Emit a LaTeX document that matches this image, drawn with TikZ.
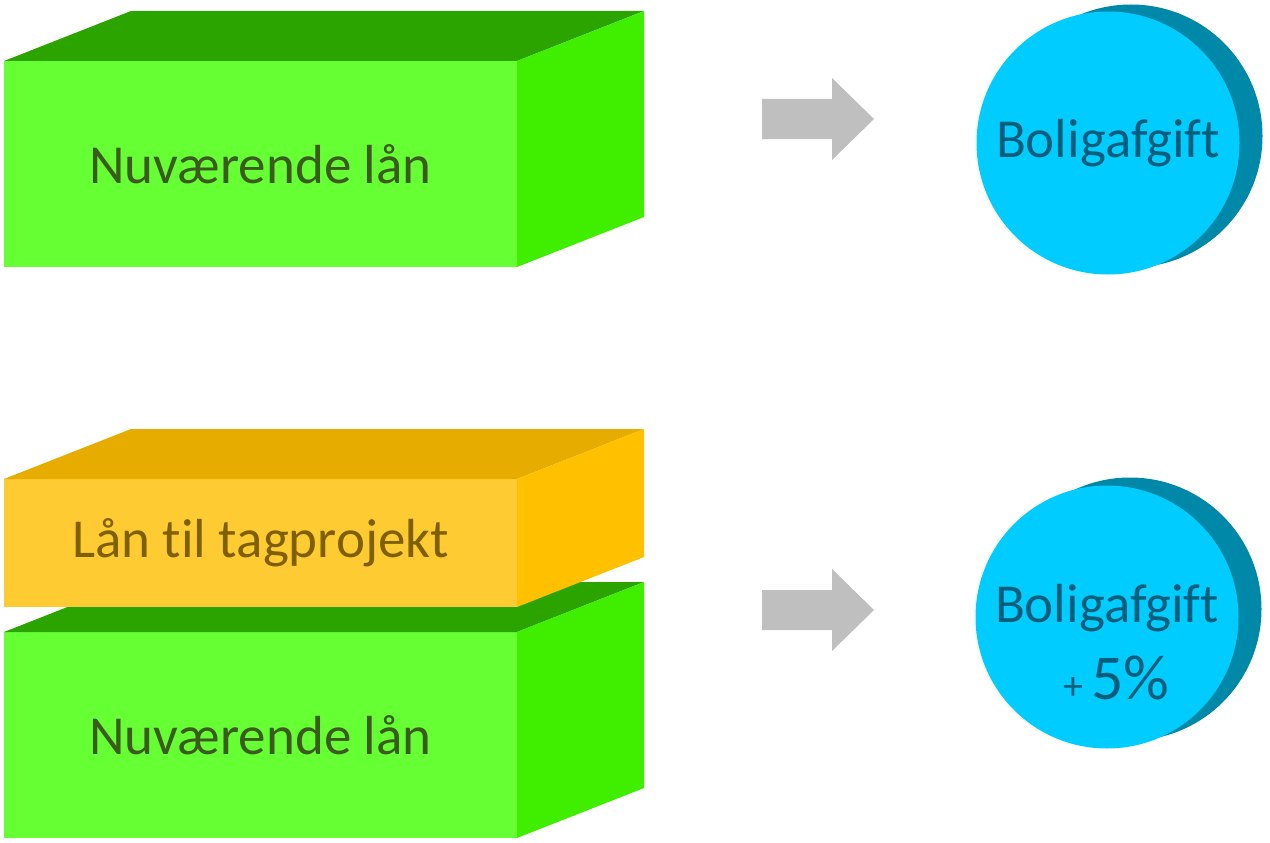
\documentclass[tikz,border=0pt]{standalone}
\usepackage{fontspec}
\setmainfont[Ligatures=NoCommon]{Carlito}
\definecolor{greenfront}{HTML}{66FF33}
\definecolor{greenside}{HTML}{40EE00}
\definecolor{greentop}{HTML}{2CA400}
\definecolor{greentext}{HTML}{3B5A1D}
\definecolor{orangefront}{HTML}{FFCB33}
\definecolor{orangeside}{HTML}{FFC000}
\definecolor{orangetop}{HTML}{E6AC00}
\definecolor{orangetext}{HTML}{7F6000}
\definecolor{discfront}{HTML}{00CCFF}
\definecolor{discback}{HTML}{0088A8}
\definecolor{disctext}{HTML}{005E7D}
\definecolor{arrowgrey}{HTML}{BFBFBF}

\begin{document}
\begin{tikzpicture}[x=1pt, y=-1pt,
    frontface/.style={rectangle, inner sep=0pt, outer sep=0pt, minimum width=513pt, anchor=north west, font=\fontsize{55}{60}\selectfont},
    disc/.style={circle, inner sep=0pt, outer sep=0pt, minimum size=263pt},
    disclabel/.style={inner sep=0pt, text=disctext, font=\fontsize{55}{60}\selectfont}]

  \useasboundingbox (0,0) rectangle (1270,843);

  % Current loans (green boxes)
  \node[frontface, minimum height=206pt, fill=greenfront, text=greentext] (loan1) at (4,61) {Nuværende lån};
  \node[frontface, minimum height=206pt, fill=greenfront, text=greentext] (loan2) at (4,632) {Nuværende lån};

  % Top and side faces of the green boxes
  \foreach \b in {loan1, loan2} {
    \fill[greentop] (\b.north west) -- ++(127,-50) -- ++(513,0) -- (\b.north east) -- cycle;
    \fill[greenside] (\b.north east) -- ++(127,-50) -- ([shift={(127,-50)}]\b.south east) -- (\b.south east) -- cycle;
  }

  % Roof project loan stacked on top
  \node[frontface, minimum height=128pt, fill=orangefront, text=orangetext] (roof) at (4,479) {Lån til tagprojekt};
  \fill[orangetop] (roof.north west) -- ++(127,-50) -- ++(513,0) -- (roof.north east) -- cycle;
  \fill[orangeside] (roof.north east) -- ++(127,-50) -- ([shift={(127,-50)}]roof.south east) -- (roof.south east) -- cycle;

  % Block arrows
  \foreach \y in {119, 610}
    \fill[arrowgrey] (762,\y-20) -- (832,\y-20) -- (832,\y-41) -- (874,\y) -- (832,\y+41) -- (832,\y+20) -- (762,\y+20) -- cycle;

  % Housing fee discs
  \node[disc, fill=discback] (fee1back) at (1131,136) {};
  \node[disc, fill=discfront, text=disctext, font=\fontsize{55}{60}\selectfont] (fee1) at (1108,143) {Boligafgift};

  \node[disc, fill=discback] (fee2back) at (1130,609) {};
  \node[disc, fill=discfront] (fee2) at (1107,617) {};
  \node[disclabel, anchor=base] (fee2name) at (1107,622) {Boligafgift};
  \node[disclabel, anchor=base west, font=\fontsize{64}{70}\selectfont] (fee2pct) at (1091,699) {5\%};
  \node[disclabel, anchor=base east, font=\fontsize{40}{46}\selectfont] (fee2plus) at (1084,699) {+};

\end{tikzpicture}
\end{document}
